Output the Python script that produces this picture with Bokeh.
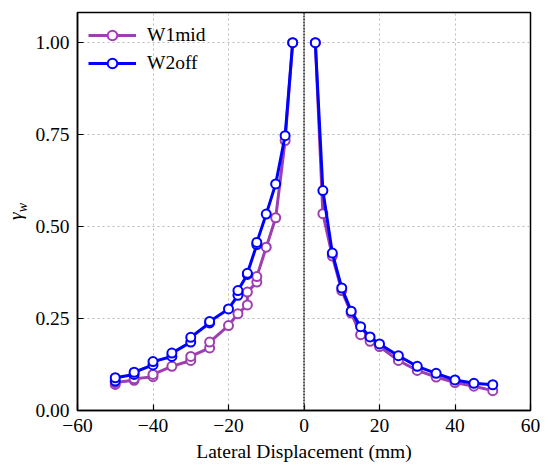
import math
from bokeh.plotting import figure
from bokeh.layouts import row
from bokeh.models import FixedTicker, Span, Legend, LegendItem
from bokeh.embed import file_html
from bokeh.resources import INLINE

# ---- data ----
# W1mid, negative (left) and positive (right) sides
w1_left_x = [-50, -50, -45, -45, -40, -40, -35, -30, -30, -25, -25, -20, -17.5, -15, -15, -12.5, -12.5, -10, -7.5, -5, -3]
w1_left_y = [0.071, 0.076, 0.082, 0.086, 0.092, 0.098, 0.120, 0.136, 0.147, 0.170, 0.186, 0.231, 0.263, 0.287, 0.322, 0.349, 0.364, 0.444, 0.524, 0.734, 1.00]
w1_right_x = [3, 5, 7.5, 10, 12.5, 15, 17.5, 20, 25, 30, 35, 40, 45, 50]
w1_right_y = [1.00, 0.535, 0.420, 0.326, 0.265, 0.206, 0.188, 0.174, 0.136, 0.109, 0.091, 0.076, 0.066, 0.054]

# W2off
w2_left_x = [-50, -50, -45, -45, -40, -40, -35, -35, -30, -30, -25, -25, -20, -17.5, -17.5, -15, -15, -12.5, -12.5, -10, -7.5, -5, -3]
w2_left_y = [0.080, 0.089, 0.098, 0.104, 0.124, 0.133, 0.147, 0.156, 0.186, 0.199, 0.238, 0.242, 0.276, 0.313, 0.326, 0.370, 0.373, 0.451, 0.457, 0.534, 0.616, 0.747, 1.00]
w2_right_x = [3, 5, 7.5, 10, 12.5, 15, 17.5, 20, 25, 30, 35, 40, 45, 50]
w2_right_y = [1.00, 0.598, 0.428, 0.333, 0.270, 0.228, 0.200, 0.181, 0.149, 0.120, 0.101, 0.083, 0.074, 0.070]

series_names = ["W1mid", "W2off"]
x_ticks = [-60, -40, -20, 0, 20, 40, 60]
y_ticks = [0.0, 0.25, 0.5, 0.75, 1.0]
y_label_main = "\u03b3"
y_label_sub = "w"

FONT = "Liberation Serif"
PURPLE = "#9E3FB0"
BLUE = "#0000FF"
LABEL_W = 28
H = 468

# narrow panel carrying the y-axis label (gamma with subscript w)
lab = figure(width=LABEL_W, height=H, x_range=(0, LABEL_W), y_range=(0, H),
             x_axis_type=None, y_axis_type=None, output_backend="svg", toolbar_location=None,
             min_border=0, outline_line_color=None)
lab.xgrid.visible = False
lab.ygrid.visible = False
lab.text(x=[15], y=[H - 235], text=[y_label_main], angle=math.pi / 2,
         text_font=FONT, text_font_size="19.5px", text_font_style="italic",
         text_align="right", text_baseline="middle", text_color="black")
lab.text(x=[21.5], y=[H - 235], text=[y_label_sub], angle=math.pi / 2,
         text_font=FONT, text_font_size="14px", text_font_style="italic",
         text_align="left", text_baseline="middle", text_color="black")

p = figure(width=542 - LABEL_W, height=H, x_range=(-60, 60), y_range=(0, 1.082),
           output_backend="svg", toolbar_location=None,
           min_border_left=77 - LABEL_W, min_border_top=12, min_border_right=12, min_border_bottom=58)


def draw(xs, ys, color):
    ln = p.line(xs, ys, line_color=color, line_width=3)
    sc = p.scatter(xs, ys, size=9, marker="circle", fill_color="white", line_color=color, line_width=2)
    return [ln, sc]


r1 = draw(w1_left_x, w1_left_y, PURPLE) + draw(w1_right_x, w1_right_y, PURPLE)
r2 = draw(w2_left_x, w2_left_y, BLUE) + draw(w2_right_x, w2_right_y, BLUE)

# zero line
p.add_layout(Span(location=0, dimension="height", line_color="#222222", line_width=1.5, line_dash="2 1"))

# axes
p.xaxis.ticker = FixedTicker(ticks=x_ticks)
p.xaxis.major_label_overrides = {t: (str(t).replace("-", "\u2212")) for t in x_ticks}
p.yaxis.ticker = FixedTicker(ticks=y_ticks)
p.yaxis.major_label_overrides = {t: f"{t:.2f}" for t in y_ticks}

for ax in (p.xaxis, p.yaxis):
    ax.major_label_text_font = FONT
    ax.major_label_text_font_size = "19.5px"
    ax.major_label_text_color = "black"
    ax.axis_label_text_font = FONT
    ax.axis_label_text_font_size = "19.5px"
    ax.axis_label_text_font_style = "normal"
    ax.axis_label_text_color = "black"
    ax.major_tick_in = 6
    ax.major_tick_out = 0
    ax.minor_tick_in = 0
    ax.minor_tick_out = 0
    ax.axis_line_color = "black"
    ax.axis_line_width = 1.5
    ax.major_tick_line_color = "black"
    ax.major_tick_line_width = 1.2
    ax.major_label_standoff = 8

p.xaxis.axis_label = "Lateral Displacement (mm)"
p.xaxis.axis_label_standoff = 6

# grid
for g in (p.xgrid, p.ygrid):
    g.grid_line_color = "#bbbbbb"
    g.grid_line_dash = "2 3"
    g.grid_line_width = 1

p.outline_line_color = "black"
p.outline_line_width = 1.5
p.background_fill_color = "white"
p.border_fill_color = "white"

legend = Legend(items=[LegendItem(label=series_names[0], renderers=r1[:2]),
                       LegendItem(label=series_names[1], renderers=r2[:2])],
                location="top_left")
legend.label_text_font = FONT
legend.label_text_font_size = "19.5px"
legend.label_text_color = "black"
legend.glyph_width = 48
legend.glyph_height = 24
legend.label_height = 24
legend.spacing = 4
legend.margin = 11
legend.padding = 4
legend.label_standoff = 11
legend.border_line_color = None
legend.background_fill_alpha = 0
p.add_layout(legend)

layout = row(lab, p, spacing=0)
open("out.html", "w").write(file_html(layout, INLINE))
